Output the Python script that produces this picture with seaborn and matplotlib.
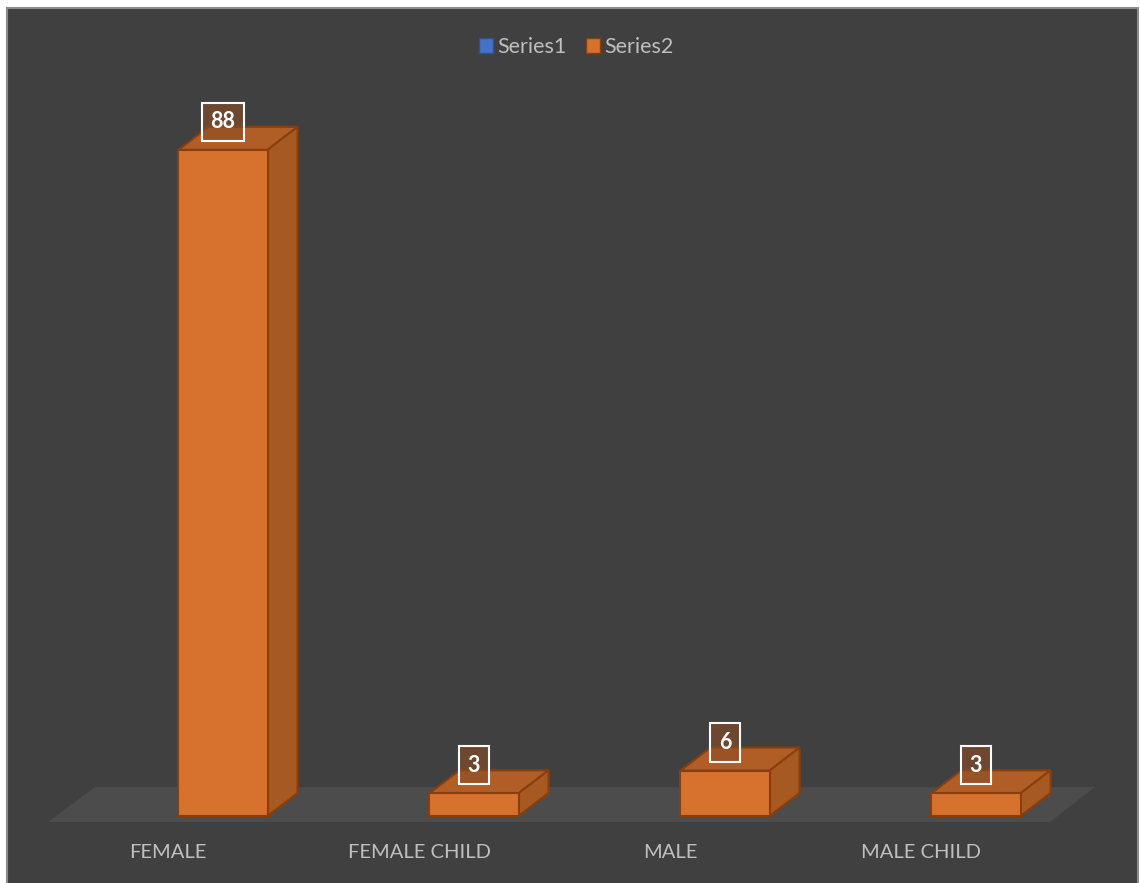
import matplotlib
matplotlib.use("Agg")
import matplotlib.pyplot as plt
from matplotlib.patches import Polygon, Rectangle, Patch
import seaborn as sns
import pandas as pd

# ---- data ----
categories = ["FEMALE", "FEMALE CHILD", "MALE", "MALE CHILD"]
series2 = [88, 3, 6, 3]
series_names = ["Series1", "Series2"]

# ---- style ----
BG = "#404040"
FLOOR = "#4d4c4d"
FRONT = "#d6722e"
SIDE = "#a65a22"
TOP = "#b05e26"
EDGE = "#8a3e0e"
TEXT = "#bfbfbf"
BLUE = "#4472c4"

sns.set_theme(style="white")
plt.rcParams["font.family"] = ["Lato", "DejaVu Sans"]

W, H = 1140, 883
fig = plt.figure(figsize=(W / 100, H / 100), dpi=100, facecolor="white")

# chart area background with grey border
bgax = fig.add_axes([0, 0, 1, 1])
bgax.set_xlim(0, W)
bgax.set_ylim(H, 0)
bgax.axis("off")
bgax.add_patch(Rectangle((6.5, 7.5), 1131, 880, facecolor=BG, edgecolor="#8c8c8c", linewidth=1.5))

# plot axes in pixel layout
px_left, px_right, px_top, px_bottom = 48, 1100, 100, 822
ax = fig.add_axes([px_left / W, 1 - px_bottom / H, (px_right - px_left) / W, (px_bottom - px_top) / H])
ax.set_facecolor("none")

# scale: bar centers at 223 + 251*i px; y=0 at 816 px, 7.57 px per unit
x_per_px = 1 / 251.0
y_per_px = 1 / 7.57

DX = 30 * x_per_px
DY = 23 * y_per_px

# floor
fx0 = (48 - 223) * x_per_px
fx1 = (1050 - 223) * x_per_px
bx0 = (95 - 223) * x_per_px
bx1 = (1095 - 223) * x_per_px
fy = -(822 - 816) * y_per_px
by = (816 - 787) * y_per_px
ax.add_patch(Polygon([(fx0, fy), (fx1, fy), (bx1, by), (bx0, by)], closed=True,
                     facecolor=FLOOR, edgecolor="none", zorder=0))

df = pd.DataFrame({"category": categories, "value": series2})
sns.barplot(data=df, x="category", y="value", color=FRONT, width=0.355, ax=ax,
            edgecolor=EDGE, linewidth=1.5, saturation=1, zorder=3)
ax.set_xlim((px_left - 223) * x_per_px, (px_right - 223) * x_per_px)
ax.set_ylim(-(px_bottom - 816) * y_per_px, (816 - px_top) * y_per_px)

for bar, v in zip(ax.containers[0], series2):
    x0 = bar.get_x()
    w = bar.get_width()
    h = bar.get_height()
    x1 = x0 + w
    top = Polygon([(x0, h), (x1, h), (x1 + DX, h + DY), (x0 + DX, h + DY)], closed=True,
                  facecolor=TOP, edgecolor=EDGE, linewidth=1.5, zorder=2.5)
    side = Polygon([(x1, 0), (x1 + DX, DY), (x1 + DX, h + DY), (x1, h)], closed=True,
                   facecolor=SIDE, edgecolor=EDGE, linewidth=1.5, zorder=2.5)
    ax.add_patch(top)
    ax.add_patch(side)
    ax.annotate(f"{v}", xy=(x0 + w / 2, h), xytext=(0, 28), textcoords="offset pixels",
                ha="center", va="center", color="white", fontsize=15.5, fontweight="bold",
                zorder=5,
                bbox=dict(boxstyle="square,pad=0.4", facecolor=(0.55, 0.30, 0.15, 0.6),
                          edgecolor="white", linewidth=1.5))

# category labels at floor front centres
ax.set_xticks([i - 55 * x_per_px for i in range(len(categories))])
ax.set_xticklabels(categories, color=TEXT, fontsize=14.5)
ax.tick_params(axis="x", length=0, pad=16)
ax.set_yticks([])
ax.set_xlabel("")
ax.set_ylabel("")
for s in ax.spines.values():
    s.set_visible(False)

handles = [Patch(facecolor=BLUE, edgecolor="#2f528f", linewidth=1),
           Patch(facecolor=FRONT, edgecolor=EDGE, linewidth=1)]
fig.legend(handles, series_names, loc="center", bbox_to_anchor=(576 / W, 1 - 47 / H),
           ncol=2, frameon=False, fontsize=15.5, labelcolor=TEXT, handlelength=0.65,
           handleheight=0.65, handletextpad=0.2, columnspacing=0.9)

fig.savefig("out.png", dpi=100, facecolor="white")
